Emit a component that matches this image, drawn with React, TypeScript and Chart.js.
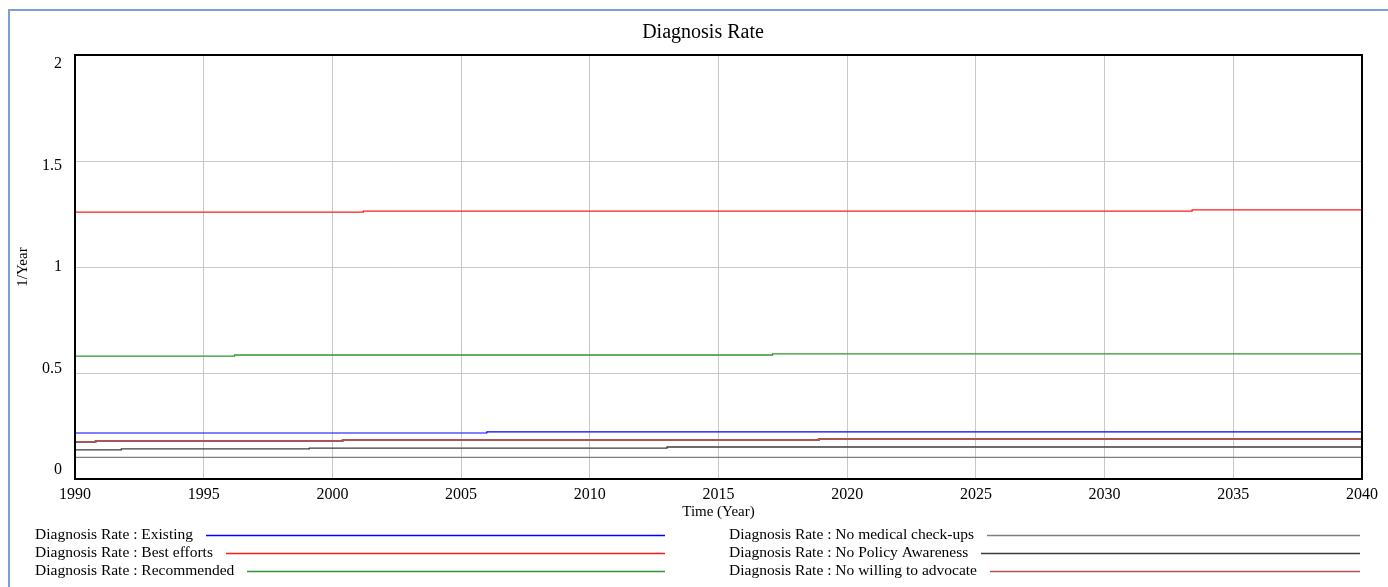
import React, { useEffect, useRef } from 'react';
import { Chart, registerables } from 'chart.js';

Chart.register(...registerables);

// ---------- data ----------
const chartTitle = 'Diagnosis Rate';
const xAxisTitle = 'Time (Year)';
const yAxisTitle = '1/Year';

const xMin = 1990;
const xMax = 2040;
const xStep = 5;
const yMin = 0;
const yMax = 2;
const yStep = 0.5;

const seriesNames = [
  'Diagnosis Rate : Existing',
  'Diagnosis Rate : Best efforts',
  'Diagnosis Rate : Recommended',
  'Diagnosis Rate : No medical check-ups',
  'Diagnosis Rate : No Policy Awareness',
  'Diagnosis Rate : No willing to advocate',
];
const seriesColors = ['#0000ff', '#ff1a1a', '#2e962e', '#808080', '#3c3c3c', '#a85656'];

const existingYears = [1990, 2006.0, 2040];
const existingValues = [0.217, 0.222, 0.222];

const bestEffortsYears = [1990, 2001.2, 2033.4, 2040];
const bestEffortsValues = [1.259, 1.264, 1.269, 1.269];

const recommendedYears = [1990, 1996.2, 2017.1, 2040];
const recommendedValues = [0.58, 0.585, 0.59, 0.59];

const noCheckupsYears = [1990, 2040];
const noCheckupsValues = [0.102, 0.102];

const noPolicyYears = [1990, 1991.8, 1999.1, 2013.0, 2040];
const noPolicyValues = [0.137, 0.142, 0.146, 0.151, 0.151];

const noAdvocateYears = [1990, 1990.8, 2000.4, 2018.9, 2040];
const noAdvocateValues = [0.175, 0.179, 0.184, 0.189, 0.189];

const seriesYears = [existingYears, bestEffortsYears, recommendedYears, noCheckupsYears, noPolicyYears, noAdvocateYears];
const seriesValues = [existingValues, bestEffortsValues, recommendedValues, noCheckupsValues, noPolicyValues, noAdvocateValues];
const seriesWidths = [1.2, 1.2, 1.3, 1.2, 1.3, 2];

// ---------- layout / style ----------
const W = 1388;
const H = 587;
const FONT = '"Liberation Serif", "Times New Roman", serif';

const decorPlugin = {
  id: 'decor',
  afterDraw(chart: any) {
    const { ctx, chartArea } = chart;
    ctx.save();
    // plot frame
    ctx.strokeStyle = '#000';
    ctx.lineWidth = 2;
    ctx.strokeRect(chartArea.left, chartArea.top, chartArea.right - chartArea.left, chartArea.bottom - chartArea.top);

    ctx.fillStyle = '#000';
    ctx.textAlign = 'center';
    ctx.textBaseline = 'middle';
    ctx.font = `20px ${FONT}`;
    ctx.fillText(chartTitle, 703, 33);

    ctx.font = `15px ${FONT}`;
    ctx.fillText(xAxisTitle, (chartArea.left + chartArea.right) / 2, 512);

    ctx.save();
    ctx.translate(23, (chartArea.top + chartArea.bottom) / 2);
    ctx.rotate(-Math.PI / 2);
    ctx.fillText(yAxisTitle, 0, 0);
    ctx.restore();

    // legend
    ctx.textAlign = 'left';
    ctx.font = `15.5px ${FONT}`;
    const colX = [35, 729];
    const colEnd = [665, 1360];
    const rowY = [535, 553, 571];
    seriesNames.forEach((name, i) => {
      const c = i < 3 ? 0 : 1;
      const r = i % 3;
      const x = colX[c];
      const y = rowY[r];
      ctx.fillStyle = '#000';
      ctx.fillText(name, x, y);
      const tw = ctx.measureText(name).width;
      ctx.strokeStyle = seriesColors[i];
      ctx.lineWidth = 1.3;
      ctx.beginPath();
      ctx.moveTo(Math.round(x + tw + 13), y + 0.5);
      ctx.lineTo(colEnd[c], y + 0.5);
      ctx.stroke();
    });
    ctx.restore();
  },
};

export default function App() {
  const ref = useRef<HTMLCanvasElement | null>(null);

  useEffect(() => {
    if (!ref.current) return;
    const datasets = seriesNames.map((name, i) => ({
      label: name,
      data: seriesYears[i].map((x, j) => ({ x, y: seriesValues[i][j] })),
      xAxisID: 'x',
      yAxisID: 'y',
      borderColor: seriesColors[i],
      backgroundColor: seriesColors[i],
      borderWidth: seriesWidths[i],
      pointRadius: 0,
      stepped: true as const,
      fill: false,
    }));

    // label axis range that spreads tick labels slightly inward (Vensim style)
    const labelInset = 9 / 203;

    const chart = new Chart(ref.current, {
      type: 'line',
      data: { datasets },
      options: {
        animation: false,
        responsive: false,
        layout: { padding: { left: 0, top: 55, right: 26, bottom: 0 } },
        plugins: {
          legend: { display: false },
          title: { display: false },
          tooltip: { enabled: false },
        },
        scales: {
          x: {
            type: 'linear',
            min: xMin,
            max: xMax,
            border: { display: false },
            grid: { color: '#c8c8c8', lineWidth: 1, drawTicks: false },
            ticks: {
              stepSize: xStep,
              padding: 6,
              color: '#000',
              font: { family: FONT, size: 16 },
              maxRotation: 0,
              callback: (v: any) => String(v),
            },
            afterFit: (s: any) => { s.height = H - 479; },
          },
          yl: {
            type: 'linear',
            position: 'left',
            min: yMin - labelInset,
            max: yMax + labelInset,
            border: { display: false },
            grid: { display: false, drawTicks: false },
            ticks: {
              stepSize: yStep,
              includeBounds: false,
              padding: 13,
              color: '#000',
              font: { family: FONT, size: 16 },
              callback: (v: any) => String(v),
            },
            afterFit: (s: any) => { s.width = 75; },
          },
          y: {
            type: 'linear',
            position: 'left',
            min: yMin,
            max: yMax,
            border: { display: false },
            grid: { color: '#c8c8c8', lineWidth: 1, drawTicks: false },
            ticks: { stepSize: yStep, display: false },
            afterFit: (s: any) => { s.width = 0; },
          },
        },
      },
      plugins: [decorPlugin],
    });
    return () => chart.destroy();
  }, []);

  return (
    <div>
      <div
        style={{
          position: 'fixed',
          left: 8,
          top: 9,
          right: -10,
          bottom: -10,
          borderTop: '2px solid #7b9fd4',
          borderLeft: '2px solid #7b9fd4',
          background: '#fff',
        }}
      />
      <canvas
        ref={ref}
        width={W}
        height={H}
        style={{ position: 'fixed', left: 0, top: 0, width: W, height: H }}
      />
    </div>
  );
}
